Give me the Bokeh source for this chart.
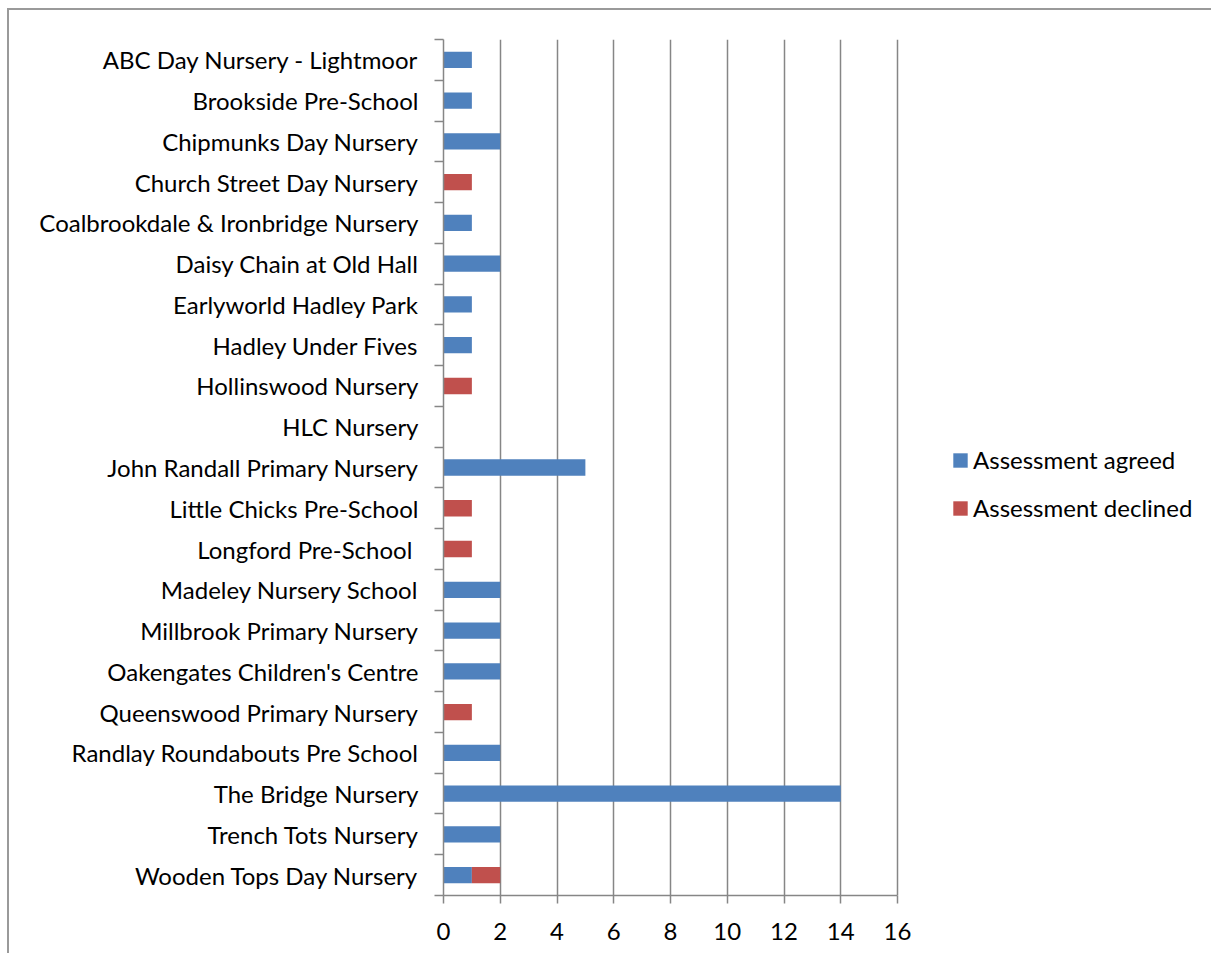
from bokeh.plotting import figure
from bokeh.models import ColumnDataSource, Range1d, FixedTicker, Legend, LegendItem
from bokeh.embed import file_html
from bokeh.resources import INLINE

nurseries = [
    "ABC Day Nursery - Lightmoor",
    "Brookside Pre-School",
    "Chipmunks Day Nursery",
    "Church Street Day Nursery",
    "Coalbrookdale & Ironbridge Nursery",
    "Daisy Chain at Old Hall",
    "Earlyworld Hadley Park",
    "Hadley Under Fives",
    "Hollinswood Nursery",
    "HLC Nursery",
    "John Randall Primary Nursery",
    "Little Chicks Pre-School",
    "Longford Pre-School ",
    "Madeley Nursery School",
    "Millbrook Primary Nursery",
    "Oakengates Children's Centre",
    "Queenswood Primary Nursery",
    "Randlay Roundabouts Pre School",
    "The Bridge Nursery",
    "Trench Tots Nursery",
    "Wooden Tops Day Nursery",
]
agreed = [1, 1, 2, 0, 1, 2, 1, 1, 0, 0, 5, 0, 0, 2, 2, 2, 0, 2, 14, 2, 1]
declined = [0, 0, 0, 1, 0, 0, 0, 0, 1, 0, 0, 1, 1, 0, 0, 0, 1, 0, 0, 0, 1]
series_names = ["Assessment agreed", "Assessment declined"]
x_ticks = [0, 2, 4, 6, 8, 10, 12, 14, 16]
X_MAX = 16

FONT = "Lato"
FS = "24px"
GRID = "#868686"

W, H = 1204, 945
MBL = 434
AXIS_PX = 454          # pixel length of the 0..16 axis
FRAME_W = W - MBL      # frame runs to the right edge so the legend is not clipped
x_end = X_MAX * FRAME_W / AXIS_PX

n = len(nurseries)
ypos = [n - i - 0.5 for i in range(n)]
src = ColumnDataSource(dict(y=ypos, agreed=agreed, declined=declined))

p = figure(width=W, height=H, x_range=Range1d(0, x_end), y_range=Range1d(0, n),
           output_backend="svg", toolbar_location=None,
           min_border_left=MBL, min_border_right=0, min_border_top=29, min_border_bottom=60)
p.outline_line_color = None
p.background_fill_color = "white"
p.border_fill_color = "white"
p.styles = {"margin-left": "7px", "margin-top": "8px",
            "border-top": "2px solid #9a9a9a", "border-left": "2px solid #9a9a9a"}

rs = p.hbar_stack(["agreed", "declined"], y="y", height=0.4, color=["#4F81BD", "#C0504D"],
                  source=src, line_color=None)

# x axis
p.xaxis.bounds = (0, X_MAX)
p.xaxis.ticker = FixedTicker(ticks=x_ticks)
p.xaxis.axis_line_color = GRID
p.xaxis.axis_line_width = 1.5
p.xaxis.major_tick_line_color = GRID
p.xaxis.major_tick_line_width = 1.5
p.xaxis.major_tick_in = 0
p.xaxis.major_tick_out = 8
p.xaxis.minor_tick_line_color = None
p.xaxis.major_label_text_font = FONT
p.xaxis.major_label_text_font_size = FS
p.xaxis.major_label_text_color = "black"
p.xaxis.major_label_standoff = 19

# y axis
p.yaxis.ticker = FixedTicker(ticks=ypos, minor_ticks=list(range(n + 1)))
p.yaxis.major_label_overrides = {y: name for y, name in zip(ypos, nurseries)}
p.yaxis.axis_line_color = GRID
p.yaxis.axis_line_width = 1.5
p.yaxis.major_tick_line_color = None
p.yaxis.major_tick_in = 0
p.yaxis.major_tick_out = 0
p.yaxis.minor_tick_line_color = GRID
p.yaxis.minor_tick_line_width = 1.5
p.yaxis.minor_tick_in = 0
p.yaxis.minor_tick_out = 9
p.yaxis.major_label_text_font = FONT
p.yaxis.major_label_text_font_size = FS
p.yaxis.major_label_text_color = "black"
p.yaxis.major_label_standoff = 16

# grid
p.ygrid.grid_line_color = None
p.xgrid.ticker = FixedTicker(ticks=x_ticks)
p.xgrid.grid_line_color = GRID
p.xgrid.grid_line_width = 1.5

legend = Legend(items=[LegendItem(label=series_names[0], renderers=[rs[0]]),
                       LegendItem(label=series_names[1], renderers=[rs[1]])],
                location=(508, 373), orientation="vertical")
legend.glyph_width = 18
legend.glyph_height = 18
legend.label_text_font = FONT
legend.label_text_font_size = FS
legend.label_text_color = "black"
legend.label_standoff = 4
legend.spacing = 19
legend.padding = 0
legend.margin = 0
legend.border_line_color = None
legend.background_fill_alpha = 0
p.add_layout(legend)

open("out.html", "w").write(file_html(p, INLINE))
